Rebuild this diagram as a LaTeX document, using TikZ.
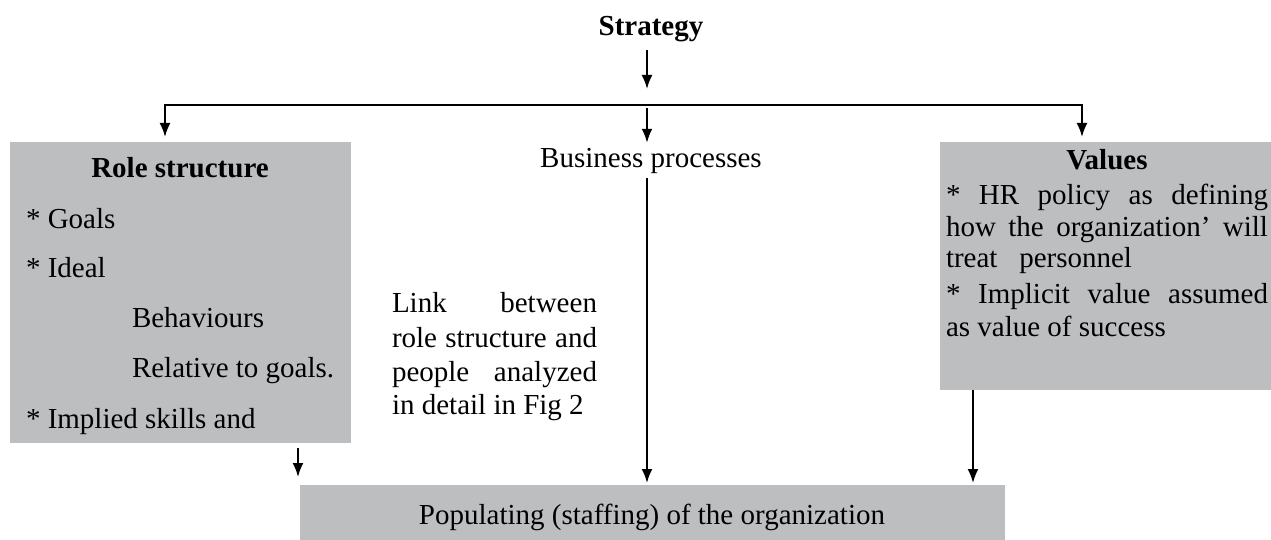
\documentclass[tikz,border=0pt]{standalone}
\usepackage{fontspec}
\setmainfont{Liberation Serif}
\usetikzlibrary{arrows.meta}
\definecolor{boxgray}{RGB}{188,190,192}
\begin{document}
\begin{tikzpicture}[x=0.5pt,y=-0.5pt,
  box/.style={fill=boxgray, draw=none, inner sep=0pt, outer sep=0pt, anchor=north west},
  txt/.style={inner sep=0pt, outer sep=0pt, font=\fontsize{14.5}{17}\selectfont},
  ttl/.style={inner sep=0pt, outer sep=0pt, font=\fontsize{14.5}{17}\selectfont\bfseries},
  arr/.style={line width=1pt, -{Latex[length=7pt,width=5.5pt]}},
  biarr/.style={line width=1pt, {Latex[length=7pt,width=5.5pt]}-{Latex[length=7pt,width=5.5pt]}},
]
\useasboundingbox (0,0) rectangle (1271,540);

% boxes
\node[box, minimum width=170.5pt, minimum height=150.5pt] (role) at (10,142) {};
\node[box, minimum width=165.5pt, minimum height=124pt] (val) at (940,142) {};
\node[box, minimum width=352.5pt, minimum height=27.5pt] (pop) at (300,485) {};

% texts
\node[ttl, anchor=base] (strategy) at (651,36) {Strategy};
\node[txt, anchor=base] (bp) at (651,168) {Business processes};

\node[ttl, anchor=base] (roleT) at (180,177) {Role structure};
\node[txt, anchor=base west] (r1) at (26,228) {* Goals};
\node[txt, anchor=base west] (r2) at (26,278) {* Ideal};
\node[txt, anchor=base west] (r3) at (132,328) {Behaviours};
\node[txt, anchor=base west] (r4) at (132,378) {Relative to goals.};
\node[txt, anchor=base west] (r5) at (26,428) {* Implied skills and};

\node[txt, anchor=base west] (l1) at (392,313) {\makebox[102.5pt][s]{Link between}};
\node[txt, anchor=base west] (l2) at (392,347) {\makebox[102.5pt][s]{role structure and}};
\node[txt, anchor=base west] (l3) at (392,381) {\makebox[102.5pt][s]{people analyzed}};
\node[txt, anchor=base west] (l4) at (392,415) {in detail in Fig 2};

\node[ttl, anchor=base] (valT) at (1107,170) {Values};
\node[txt, anchor=base west] (v1) at (946,205) {\makebox[161pt][s]{* HR policy as defining}};
\node[txt, anchor=base west] (v2) at (946,237) {\makebox[161pt][s]{how the organization’ will}};
\node[txt, anchor=base west] (v3) at (946,268) {treat\hspace{0.75em}personnel};
\node[txt, anchor=base west] (v4) at (946,304) {\makebox[161pt][s]{* Implicit value assumed}};
\node[txt, anchor=base west] (v5) at (946,336) {as value of success};

\node[txt, anchor=base] (popT) at (652,524) {Populating (staffing) of the organization};

% junctions
\coordinate (jl) at (165,105);
\coordinate (jr) at (1082,105);
\coordinate (jm) at (647,108);
\coordinate (stend) at (647,89);
\coordinate (xl) at (298,0);
\coordinate (xr) at (973,0);

% connectors
\draw[arr, shorten <=4pt] (strategy.south -| stend) -- (stend);
\draw[biarr, shorten <=2.5pt, shorten >=2.5pt] (jl |- role.north) -- (jl) -- (jr) -- (jr |- val.north);
\draw[arr, shorten >=3pt] (jm) -- (jm |- bp.north);
\draw[arr, shorten <=2pt, shorten >=1pt] (bp.south -| jm) -- (pop.north -| jm);
\draw[arr, shorten <=2.5pt, shorten >=4pt] (role.south -| xl) -- (pop.north -| xl);
\draw[arr, shorten >=1pt] (val.south -| xr) -- (pop.north -| xr);
\end{tikzpicture}
\end{document}
